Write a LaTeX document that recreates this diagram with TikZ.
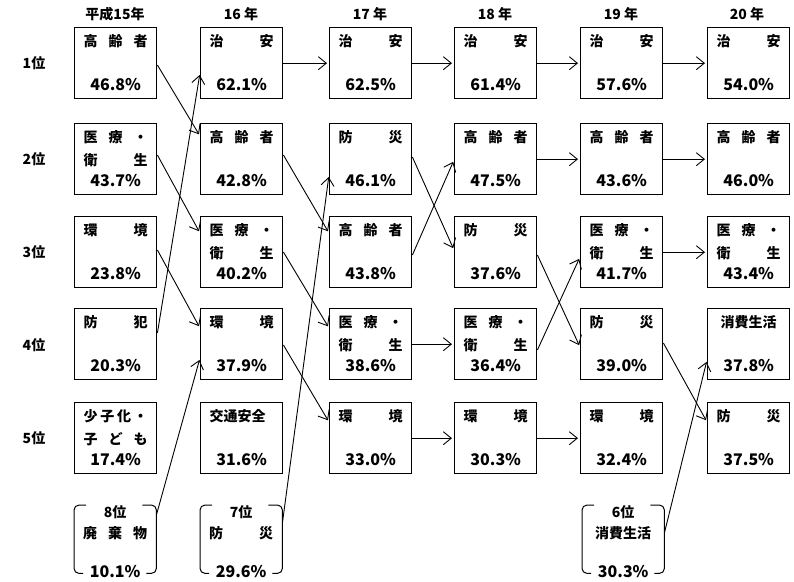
\documentclass[tikz,border=0pt]{standalone}
\usepackage{fontspec}
\setmainfont{Noto Sans CJK JP}
\usetikzlibrary{arrows.meta}

% text lines inside a ranking box and inside a bracket
\newcommand{\cjkstrut}{\vrule height 12.3pt depth 1.7pt width 0pt}
\newcommand{\pct}[1]{{\fontsize{16pt}{16pt}\selectfont #1}}
\newcommand{\celltxt}[3]{\vbox to 71pt{\offinterlineskip\hsize=64pt
  \vskip 6pt\hbox to 64pt{\cjkstrut #1}%
  \vskip 9pt\hbox to 64pt{\cjkstrut #2}%
  \vskip 7pt\hbox to 64pt{\cjkstrut\hfil\pct{#3}\hfil}\vss}}
\newcommand{\brtxt}[3]{\vbox to 68pt{\offinterlineskip\hsize=64pt
  \hbox to 64pt{\cjkstrut\hfil #1\hfil}%
  \vskip 7pt\hbox to 64pt{\cjkstrut #2}%
  \vskip 24.7pt\hbox to 64pt{\cjkstrut\hfil\pct{#3}\hfil}\vss}}

\begin{document}
\begin{tikzpicture}[x=1pt,y=-1pt,
  font=\bfseries\fontsize{14pt}{16pt}\selectfont,
  cellbox/.style={draw,line width=1.4pt,inner sep=0pt,minimum width=82pt,anchor=north west},
  brbox/.style={inner sep=0pt,minimum width=82pt,anchor=north west},
  bracket/.style={line width=1pt,rounded corners=5pt},
  link/.style={line width=0.9pt,-{Straight Barb[length=8pt,width=13pt]},shorten >=2pt}]
	\useasboundingbox (0,0) rectangle (794,581);

	% years and ranks
	\node (y15) at (115,14) {平成15年};
	\node (y16) at (241,14) {16 年};
	\node (y17) at (370,14) {17 年};
	\node (y18) at (495,14) {18 年};
	\node (y19) at (621,14) {19 年};
	\node (y20) at (747,14) {20 年};
	\node (rk1) at (34,63) {1位};
	\node (rk2) at (34,159) {2位};
	\node (rk3) at (34,252) {3位};
	\node (rk4) at (34,345) {4位};
	\node (rk5) at (34,438) {5位};

	% 15
	\node[cellbox] (s15r1) at (74,27) {\celltxt{高\hfill 齢\hfill 者}{}{46.8\%}};
	\node[cellbox] (s15r2) at (74,123) {\celltxt{医\hfill 療\hfill ・}{衛\hfill 生}{43.7\%}};
	\node[cellbox] (s15r3) at (74,216) {\celltxt{環\hfill 境}{}{23.8\%}};
	\node[cellbox] (s15r4) at (74,308) {\celltxt{防\hfill 犯}{}{20.3\%}};
	\node[cellbox] (s15r5) at (74,402) {\celltxt{少\hfill 子\hfill 化\hfill ・}{子\hfill ど\hfill も}{17.4\%}};
	\node[brbox] (s15r8) at (74,505) {\brtxt{8位}{廃\hfill 棄\hfill 物}{10.1\%}};
	% 16
	\node[cellbox] (s16r1) at (200,27) {\celltxt{治\hfill 安}{}{62.1\%}};
	\node[cellbox] (s16r2) at (200,123) {\celltxt{高\hfill 齢\hfill 者}{}{42.8\%}};
	\node[cellbox] (s16r3) at (200,216) {\celltxt{医\hfill 療\hfill ・}{衛\hfill 生}{40.2\%}};
	\node[cellbox] (s16r4) at (200,308) {\celltxt{環\hfill 境}{}{37.9\%}};
	\node[cellbox] (s16r5) at (200,402) {\celltxt{交通安全\hfil}{}{31.6\%}};
	\node[brbox] (s16r7) at (200,505) {\brtxt{7位}{防\hfill 災}{29.6\%}};
	% 17
	\node[cellbox] (s17r1) at (329,27) {\celltxt{治\hfill 安}{}{62.5\%}};
	\node[cellbox] (s17r2) at (329,123) {\celltxt{防\hfill 災}{}{46.1\%}};
	\node[cellbox] (s17r3) at (329,216) {\celltxt{高\hfill 齢\hfill 者}{}{43.8\%}};
	\node[cellbox] (s17r4) at (329,308) {\celltxt{医\hfill 療\hfill ・}{衛\hfill 生}{38.6\%}};
	\node[cellbox] (s17r5) at (329,402) {\celltxt{環\hfill 境}{}{33.0\%}};
	% 18
	\node[cellbox] (s18r1) at (454,27) {\celltxt{治\hfill 安}{}{61.4\%}};
	\node[cellbox] (s18r2) at (454,123) {\celltxt{高\hfill 齢\hfill 者}{}{47.5\%}};
	\node[cellbox] (s18r3) at (454,216) {\celltxt{防\hfill 災}{}{37.6\%}};
	\node[cellbox] (s18r4) at (454,308) {\celltxt{医\hfill 療\hfill ・}{衛\hfill 生}{36.4\%}};
	\node[cellbox] (s18r5) at (454,402) {\celltxt{環\hfill 境}{}{30.3\%}};
	% 19
	\node[cellbox] (s19r1) at (580,27) {\celltxt{治\hfill 安}{}{57.6\%}};
	\node[cellbox] (s19r2) at (580,123) {\celltxt{高\hfill 齢\hfill 者}{}{43.6\%}};
	\node[cellbox] (s19r3) at (580,216) {\celltxt{医\hfill 療\hfill ・}{衛\hfill 生}{41.7\%}};
	\node[cellbox] (s19r4) at (580,308) {\celltxt{防\hfill 災}{}{39.0\%}};
	\node[cellbox] (s19r5) at (580,402) {\celltxt{環\hfill 境}{}{32.4\%}};
	\node[brbox] (s19r6) at (582,505) {\brtxt{6位}{\hfil 消費生活\hfil}{30.3\%}};
	% 20
	\node[cellbox] (s20r1) at (707,27) {\celltxt{治\hfill 安}{}{54.0\%}};
	\node[cellbox] (s20r2) at (707,123) {\celltxt{高\hfill 齢\hfill 者}{}{46.0\%}};
	\node[cellbox] (s20r3) at (707,216) {\celltxt{医\hfill 療\hfill ・}{衛\hfill 生}{43.4\%}};
	\node[cellbox] (s20r4) at (707,308) {\celltxt{\hfil 消費生活\hfil}{}{37.8\%}};
	\node[cellbox] (s20r5) at (707,402) {\celltxt{防\hfill 災}{}{37.5\%}};

	% brackets round the lower ranks
	\foreach \b in {s15r8,s16r7,s19r6} {
		\draw[bracket] ([xshift=12pt]\b.north west) -- (\b.north west) -- (\b.south west) -- ([xshift=9pt]\b.south west);
		\draw[bracket] ([xshift=-14pt]\b.north east) -- (\b.north east) -- (\b.south east) -- ([xshift=-10pt]\b.south east);
	}

	% same rank
	\foreach \a/\b in {s16r1/s17r1,s17r1/s18r1,s18r1/s19r1,s19r1/s20r1,s18r2/s19r2,s19r2/s20r2,
		s19r3/s20r3,s17r4/s18r4,s17r5/s18r5,s18r5/s19r5}
		\draw[link] (\a.east) -- (\b.west);
	% rank changes
	\foreach \a/\sa/\b/\sb in {s15r1/38/s16r2/13,s15r2/32/s16r3/17,s15r3/34/s16r4/20,s15r4/25/s16r1/46,
		s15r8/10/s16r4/50,s16r2/32/s17r3/17,s16r3/36/s17r4/20,s16r4/37/s17r5/20,s16r7/18/s17r2/52,
		s17r2/34/s18r3/34,s17r3/39/s18r2/37,s18r3/39/s19r4/39,s18r4/42/s19r3/41,s19r4/35/s20r5/20,
		s19r6/28/s20r4/52}
		\draw[link] ([yshift=-\sa pt]\a.north east) -- ([yshift=-\sb pt]\b.north west);

\end{tikzpicture}
\end{document}
